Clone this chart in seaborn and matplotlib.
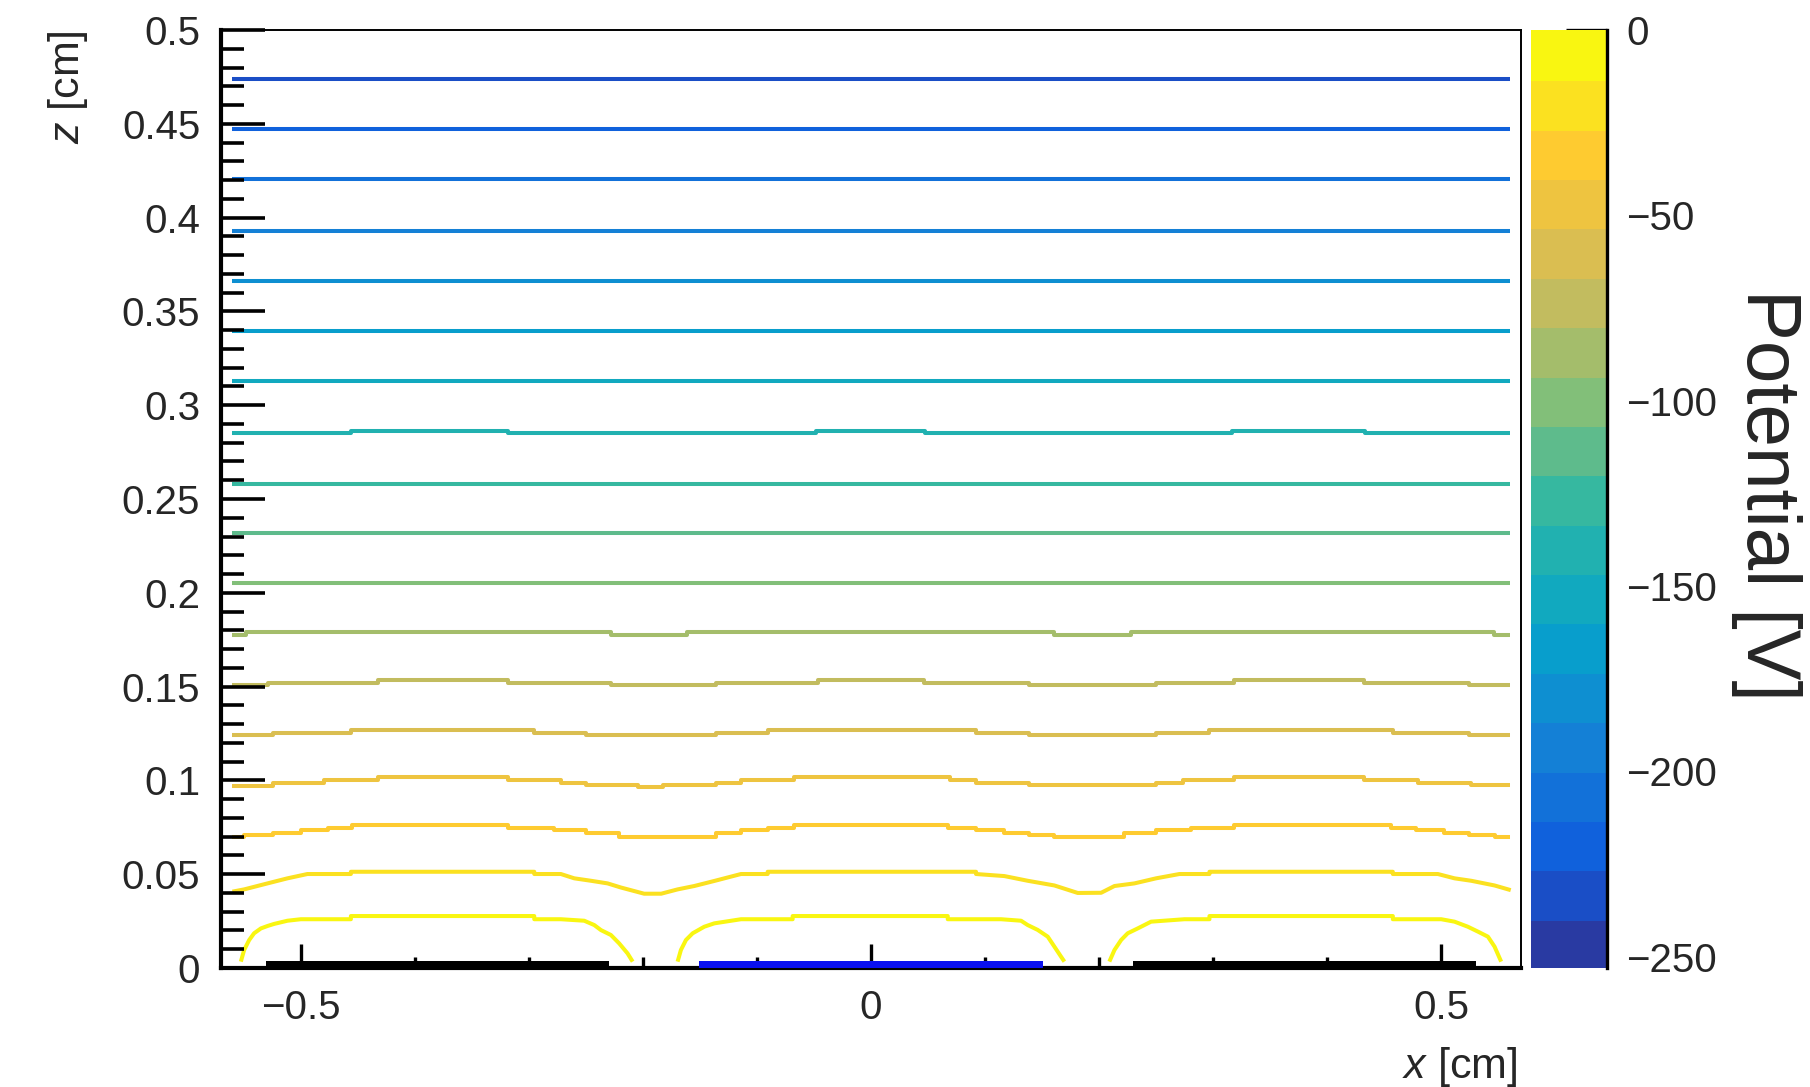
import numpy as np
import pandas as pd
import matplotlib
matplotlib.use("Agg")
import matplotlib.pyplot as plt
import seaborn as sns
from matplotlib.colors import LinearSegmentedColormap, ListedColormap, BoundaryNorm
from matplotlib.ticker import MultipleLocator, FuncFormatter
import matplotlib.cm as cm

# ------------------------------------------------------------------ data
x_limits = [-0.57, 0.57]
z_limits = [0.0, 0.5]
x_label = "$x$ [cm]"
z_label = "$z$ [cm]"
colorbar_label = "Potential [V]"

# contour level boundaries (V) -> 19 colour bands
contour_levels = [-253.0, -239.68, -226.37, -213.05, -199.74, -186.42, -173.11,
                  -159.79, -146.47, -133.16, -119.84, -106.53, -93.21, -79.89,
                  -66.58, -53.26, -39.95, -26.63, -13.32, 0.0]
colorbar_ticks = [0, -50, -100, -150, -200, -250]

# ROOT "kBird" palette stops
bird_stops = [0.0, 0.125, 0.25, 0.375, 0.5, 0.625, 0.75, 0.875, 1.0]
bird_red = [0.2082, 0.0592, 0.0780, 0.0232, 0.1802, 0.5301, 0.8186, 0.9956, 0.9764]
bird_green = [0.1664, 0.3599, 0.5041, 0.6419, 0.7178, 0.7492, 0.7328, 0.7862, 0.9832]
bird_blue = [0.5293, 0.8684, 0.8385, 0.7914, 0.6425, 0.4662, 0.3499, 0.1968, 0.0539]

# flat equipotential lines (level index -> z)
line_x_span = [-0.56, 0.56]
flat_line_level = [1, 2, 3, 4, 5, 6, 7, 9, 10, 11]
flat_line_z = [0.4737, 0.4471, 0.4205, 0.3927, 0.3661, 0.3395, 0.3129,
               0.2580, 0.2317, 0.2053]

# stepped lines: breakpoints in x and z of each segment
line8_breaks = [-0.56, -0.456, -0.318, -0.048, 0.047, 0.317, 0.433, 0.56]
line8_z = [0.2850, 0.2864, 0.2850, 0.2864, 0.2850, 0.2864, 0.2850]

line12_breaks = [-0.56, -0.548, -0.228, -0.161, 0.1605, 0.228, 0.5465, 0.56]
line12_z = [0.1775, 0.1789, 0.1775, 0.1789, 0.1775, 0.1789, 0.1775]

line13_breaks = [-0.56, -0.529, -0.4327, -0.3187, -0.228, -0.136, -0.0468, 0.0468,
                 0.1389, 0.25, 0.3187, 0.4327, 0.5248, 0.56]
line13_z = [0.1509, 0.1521, 0.1535, 0.1521, 0.1509, 0.1521, 0.1535, 0.1521,
            0.1509, 0.1521, 0.1535, 0.1521, 0.1509]

line14_breaks = [-0.56, -0.5248, -0.456, -0.2953, -0.25, -0.136, -0.0906, 0.0921,
                 0.1389, 0.25, 0.2968, 0.4576, 0.5248, 0.56]
line14_z = [0.1242, 0.1254, 0.1269, 0.1254, 0.1242, 0.1254, 0.1269, 0.1254,
            0.1242, 0.1254, 0.1269, 0.1254, 0.1242]

line15_breaks = [-0.56, -0.5248, -0.4795, -0.4327, -0.3187, -0.272, -0.25, -0.2047,
                 -0.182, -0.136, -0.114, -0.0673, 0.069, 0.0921, 0.1389, 0.25,
                 0.2734, 0.3187, 0.4327, 0.4796, 0.5263, 0.56]
line15_z = [0.0970, 0.0988, 0.1002, 0.1020, 0.1002, 0.0988, 0.0975, 0.0963,
            0.0975, 0.0988, 0.1002, 0.1020, 0.1002, 0.0988, 0.0975, 0.0988,
            0.1002, 0.1020, 0.1002, 0.0988, 0.0975]

line16_breaks = [-0.56, -0.5497, -0.5248, -0.5, -0.4766, -0.4547, -0.3187, -0.2778,
                 -0.25, -0.2208, -0.136, -0.114, -0.0906, -0.0673, 0.0673, 0.0921,
                 0.117, 0.1389, 0.1608, 0.2222, 0.25, 0.2807, 0.3187, 0.4561,
                 0.4781, 0.5029, 0.5248, 0.5468, 0.56]
line16_z = [0.0700, 0.0709, 0.0721, 0.0736, 0.0748, 0.0762, 0.0748, 0.0736,
            0.0721, 0.0700, 0.0721, 0.0736, 0.0748, 0.0762, 0.0748, 0.0736,
            0.0721, 0.0709, 0.0697, 0.0721, 0.0736, 0.0748, 0.0762, 0.0748,
            0.0736, 0.0721, 0.0709, 0.0700]

# curved line (level 17)
line17_x = [-0.56, -0.5497, -0.5292, -0.5117, -0.4942, -0.4561, -0.4561, -0.2953,
            -0.2953, -0.272, -0.2602, -0.2456, -0.231, -0.2193, -0.1989, -0.184,
            -0.1696, -0.155, -0.1374, -0.114, -0.0906, -0.0906, 0.0921, 0.0921,
            0.117, 0.1374, 0.1608, 0.1813, 0.2018, 0.2135, 0.231, 0.25, 0.2705,
            0.2968, 0.2968, 0.4576, 0.4576, 0.4971, 0.5117, 0.5263, 0.5468, 0.561]
line17_z = [0.0407, 0.0419, 0.0451, 0.0478, 0.0501, 0.0501, 0.0513, 0.0513,
            0.0501, 0.0501, 0.0478, 0.0465, 0.0451, 0.0429, 0.0396, 0.0396,
            0.0419, 0.0437, 0.0464, 0.0501, 0.0501, 0.0513, 0.0513, 0.0501,
            0.0490, 0.0465, 0.0440, 0.0400, 0.0401, 0.0437, 0.0451, 0.0478,
            0.0501, 0.0501, 0.0513, 0.0513, 0.0501, 0.0501, 0.0478, 0.0465,
            0.0440, 0.0415]

# level 18: three arcs above the strips
arc_left_x = [-0.5526, -0.5497, -0.5453, -0.541, -0.535, -0.5292, -0.5234, -0.5117,
              -0.5, -0.4561, -0.4561, -0.2953, -0.2953, -0.272, -0.2515, -0.2427,
              -0.2368, -0.2281, -0.2208, -0.2135, -0.209]
arc_left_z = [0.0034, 0.0096, 0.0149, 0.0185, 0.0211, 0.0224, 0.0235, 0.0252,
              0.0260, 0.0260, 0.0277, 0.0277, 0.0260, 0.0260, 0.0252, 0.0229,
              0.0202, 0.0176, 0.0131, 0.0078, 0.0034]
arc_mid_x = [-0.1696, -0.1667, -0.1623, -0.1564, -0.1462, -0.1374, -0.114, -0.0687,
             -0.0687, 0.0673, 0.0673, 0.114, 0.1316, 0.1374, 0.1462, 0.155, 0.1608,
             0.1667, 0.1696]
arc_mid_z = [0.0034, 0.0096, 0.0149, 0.0185, 0.0220, 0.0238, 0.0260, 0.0260,
             0.0277, 0.0277, 0.0260, 0.0260, 0.0252, 0.0229, 0.0203, 0.0167,
             0.0114, 0.0060, 0.0034]
arc_right_x = [0.209, 0.2135, 0.2193, 0.2251, 0.2339, 0.2456, 0.2749, 0.2968, 0.2968,
               0.4576, 0.4576, 0.5, 0.5117, 0.5234, 0.5322, 0.541, 0.5468, 0.5526]
arc_right_z = [0.0034, 0.0096, 0.0149, 0.0185, 0.0211, 0.0247, 0.0260, 0.0260,
               0.0277, 0.0277, 0.0260, 0.0260, 0.0247, 0.0220, 0.0194, 0.0167,
               0.0114, 0.0034]

# read-out strips at z = 0
strip_x0 = [-0.5307, -0.1506, 0.2295]
strip_x1 = [-0.2295, 0.1506, 0.5307]
strip_color = ["black", "#0a10f0", "black"]

# ------------------------------------------------------------------ style
sns.set_style("white")
plt.rcParams["font.family"] = ["Liberation Sans", "DejaVu Sans"]
plt.rcParams["mathtext.fontset"] = "custom"
plt.rcParams["mathtext.rm"] = "Liberation Sans"
plt.rcParams["mathtext.it"] = "Liberation Sans:italic"
plt.rcParams["axes.unicode_minus"] = True

bird = LinearSegmentedColormap.from_list(
    "bird", list(zip(bird_stops, zip(bird_red, bird_green, bird_blue))), N=255)
n_bands = len(contour_levels) - 1
band_colors = [bird(min(1.0, (c + 0.75) / n_bands)) for c in range(n_bands)]

# ------------------------------------------------------------------ table
rows = []
seg_id = [0]


def add_line(level, xs, zs):
    for xv, zv in zip(xs, zs):
        rows.append({"x": xv, "z": zv, "level": level, "seg": seg_id[0]})
    seg_id[0] += 1


def add_steps(level, breaks, zvals):
    xs, zs = [], []
    for i, zv in enumerate(zvals):
        xs += [breaks[i], breaks[i + 1]]
        zs += [zv, zv]
    add_line(level, xs, zs)


for lev, zv in zip(flat_line_level, flat_line_z):
    add_line(lev, line_x_span, [zv, zv])
add_steps(8, line8_breaks, line8_z)
add_steps(12, line12_breaks, line12_z)
add_steps(13, line13_breaks, line13_z)
add_steps(14, line14_breaks, line14_z)
add_steps(15, line15_breaks, line15_z)
add_steps(16, line16_breaks, line16_z)
add_line(17, line17_x, line17_z)
add_line(18, arc_left_x, arc_left_z)
add_line(18, arc_mid_x, arc_mid_z)
add_line(18, arc_right_x, arc_right_z)
df = pd.DataFrame(rows)
line_palette = {k: band_colors[k] for k in sorted(df["level"].unique())}

# ------------------------------------------------------------------ figure
W, H = 1810, 1087
fig = plt.figure(figsize=(W / 100, H / 100), dpi=100)
ax = fig.add_axes([221 / W, (H - 968) / H, 1300 / W, 938 / H])
cax = fig.add_axes([1531 / W, (H - 968) / H, 76 / W, 938 / H])

sns.lineplot(data=df, x="x", y="z", hue="level", units="seg", estimator=None,
             sort=False, palette=line_palette, legend=False, linewidth=2.9, ax=ax)
for ln in ax.lines:
    ln.set_solid_capstyle("butt")

for x0, x1, c in zip(strip_x0, strip_x1, strip_color):
    ax.fill_between([x0, x1], 0, 0.0036, color=c, linewidth=0, zorder=3)

ax.set_xlim(*x_limits)
ax.set_ylim(*z_limits)
ax.set_axisbelow(False)


def fmt(v, pos=None):
    if abs(v) < 1e-9:
        return "0"
    return f"{v:g}".replace("-", "\u2212")


ax.xaxis.set_major_locator(MultipleLocator(0.5))
ax.xaxis.set_minor_locator(MultipleLocator(0.1))
ax.yaxis.set_major_locator(MultipleLocator(0.05))
ax.yaxis.set_minor_locator(MultipleLocator(0.01))
ax.xaxis.set_major_formatter(FuncFormatter(fmt))
ax.yaxis.set_major_formatter(FuncFormatter(fmt))

ax.tick_params(axis="x", which="both", direction="in", bottom=True, top=False,
               width=2.4, labelsize=29, pad=15, color="black")
ax.tick_params(axis="x", which="major", length=17)
ax.tick_params(axis="x", which="minor", length=8)
ax.tick_params(axis="y", which="both", direction="in", left=True, right=False,
               width=2.6, labelsize=29, pad=15, color="black")
ax.tick_params(axis="y", which="major", length=32)
ax.tick_params(axis="y", which="minor", length=16.5)

for side in ["top", "right"]:
    ax.spines[side].set_linewidth(1.4)
    ax.spines[side].set_color("black")
for side in ["left", "bottom"]:
    ax.spines[side].set_linewidth(3.0)
    ax.spines[side].set_color("black")

ax.set_xlabel(x_label, fontsize=31, loc="right")
ax.xaxis.set_label_coords(0.997, -0.082)
ax.set_ylabel(z_label, fontsize=31, loc="top")
ax.yaxis.label.set_va("center")
ax.yaxis.set_label_coords(-0.1177, 1.0)

# colour bar
band_cmap = ListedColormap(band_colors)
norm = BoundaryNorm(contour_levels, band_cmap.N)
sm = cm.ScalarMappable(norm=norm, cmap=band_cmap)
cbar = fig.colorbar(sm, cax=cax, ticks=colorbar_ticks)
cbar.outline.set_visible(False)
cbar.solids.set_edgecolor("face")
cax.yaxis.set_major_formatter(FuncFormatter(fmt))
cax.minorticks_off()
cax.tick_params(axis="y", which="major", direction="in", right=True, left=False,
                length=29.5, width=2.4, labelsize=29, pad=14, color="black")
cax.spines["right"].set_visible(True)
cax.spines["right"].set_linewidth(2.4)
cax.spines["right"].set_color("black")

fig.text(1766 / W, 1 - 495 / H, colorbar_label, rotation=270, ha="center",
         va="center", fontsize=55)

fig.savefig("out.png", dpi=100, facecolor="white")
